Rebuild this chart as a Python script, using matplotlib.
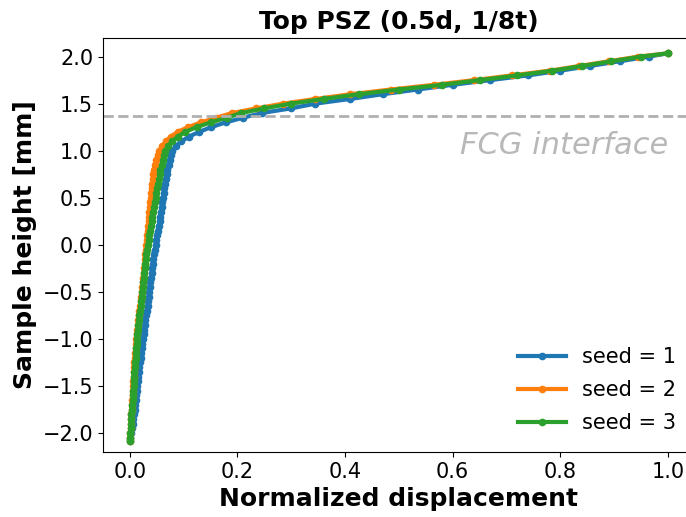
import numpy as np
import matplotlib
matplotlib.use("Agg")
import matplotlib.pyplot as plt

# sample heights (mm) along the specimen, shared by all seeds
height = [-2.08, -2.05, -2.0, -1.95, -1.9, -1.85, -1.8, -1.75, -1.7, -1.65,
          -1.6, -1.55, -1.5, -1.45, -1.4, -1.35, -1.3, -1.25, -1.2, -1.15,
          -1.1, -1.05, -1.0, -0.95, -0.9, -0.85, -0.8, -0.75, -0.7, -0.65,
          -0.6, -0.55, -0.5, -0.45, -0.4, -0.35, -0.3, -0.25, -0.2, -0.15,
          -0.1, -0.05, 0.0, 0.05, 0.1, 0.15, 0.2, 0.25, 0.3, 0.35,
          0.4, 0.45, 0.5, 0.55, 0.6, 0.65, 0.7, 0.75, 0.8, 0.85,
          0.9, 0.95, 1.0, 1.05, 1.1, 1.15, 1.2, 1.25, 1.3, 1.35,
          1.4, 1.45, 1.5, 1.55, 1.6, 1.65, 1.7, 1.75, 1.8, 1.85,
          1.9, 1.95, 2.0, 2.035]

# normalized displacement for each seed
disp_seed1 = [0.000, 0.001, 0.002, 0.0035, 0.005, 0.0065, 0.008, 0.009, 0.010, 0.011,
              0.012, 0.013, 0.014, 0.015, 0.016, 0.017, 0.018, 0.019, 0.020, 0.021,
              0.022, 0.023, 0.024, 0.0255, 0.027, 0.028, 0.029, 0.0305, 0.032, 0.033,
              0.034, 0.035, 0.036, 0.037, 0.038, 0.0395, 0.041, 0.042, 0.043, 0.044,
              0.045, 0.0465, 0.048, 0.0495, 0.051, 0.0525, 0.054, 0.0555, 0.057, 0.058,
              0.059, 0.0605, 0.062, 0.063, 0.064, 0.0655, 0.067, 0.0685, 0.070, 0.072,
              0.074, 0.076, 0.079, 0.086, 0.096, 0.110, 0.129, 0.151, 0.178, 0.210,
              0.245, 0.300, 0.345, 0.410, 0.470, 0.535, 0.600, 0.670, 0.740, 0.800,
              0.855, 0.910, 0.965, 1.0]
disp_seed2 = [0.000, 0.0005, 0.001, 0.0015, 0.002, 0.0025, 0.003, 0.0035, 0.004, 0.0045,
              0.005, 0.0055, 0.006, 0.0065, 0.007, 0.0075, 0.008, 0.0085, 0.009, 0.010,
              0.011, 0.0115, 0.012, 0.013, 0.014, 0.015, 0.016, 0.017, 0.018, 0.019,
              0.020, 0.021, 0.022, 0.023, 0.024, 0.025, 0.026, 0.027, 0.028, 0.0285,
              0.029, 0.030, 0.031, 0.0315, 0.032, 0.033, 0.034, 0.035, 0.036, 0.0365,
              0.037, 0.038, 0.039, 0.040, 0.041, 0.042, 0.043, 0.044, 0.045, 0.047,
              0.049, 0.052, 0.055, 0.060, 0.067, 0.076, 0.089, 0.108, 0.132, 0.160,
              0.190, 0.235, 0.285, 0.345, 0.410, 0.485, 0.565, 0.640, 0.710, 0.780,
              0.835, 0.890, 0.945, 1.0]
disp_seed3 = [0.000, 0.0005, 0.001, 0.0015, 0.002, 0.0025, 0.003, 0.0035, 0.004, 0.005,
              0.006, 0.0065, 0.007, 0.0075, 0.008, 0.0085, 0.009, 0.010, 0.011, 0.0115,
              0.012, 0.0125, 0.013, 0.014, 0.015, 0.016, 0.017, 0.018, 0.019, 0.020,
              0.021, 0.022, 0.023, 0.024, 0.025, 0.026, 0.027, 0.028, 0.029, 0.030,
              0.031, 0.0325, 0.034, 0.035, 0.036, 0.0375, 0.039, 0.0405, 0.042, 0.0435,
              0.045, 0.0465, 0.048, 0.0495, 0.051, 0.0525, 0.054, 0.0555, 0.057, 0.059,
              0.061, 0.0635, 0.066, 0.071, 0.079, 0.089, 0.103, 0.124, 0.150, 0.180,
              0.207, 0.250, 0.300, 0.360, 0.425, 0.500, 0.580, 0.650, 0.720, 0.785,
              0.840, 0.895, 0.950, 1.0]

seeds = [1, 2, 3]
fcg_height = 1.365

fig = plt.figure(figsize=(6.86, 5.17), dpi=100)
ax = fig.add_axes([0.150, 0.126, 0.863, 0.801])

for s, d in zip(seeds, [disp_seed1, disp_seed2, disp_seed3]):
    ax.plot(d, height, '-o', lw=3, ms=4.5, label='seed = %d' % s)

ax.axhline(fcg_height, color='#b0b0b0', ls='--', lw=2)
ax.text(1.0, 1.06, 'FCG interface', color='#b8b8b8', fontsize=22,
        style='italic', ha='right', va='center')

ax.set_xlim(-0.05, 1.05)
ax.set_ylim(-2.2, 2.2)
ax.set_xticks(np.arange(0, 1.01, 0.2))
ax.set_yticks(np.arange(-2.0, 2.01, 0.5))
ax.tick_params(labelsize=15)
ax.set_xlabel('Normalized displacement', fontsize=18, fontweight='bold')
ax.set_ylabel('Sample height [mm]', fontsize=18, fontweight='bold')
ax.set_title('Top PSZ (0.5d, 1/8t)', fontsize=18, fontweight='bold')
ax.legend(loc='lower right', frameon=False, fontsize=15,
          handlelength=2.3, labelspacing=0.62)

fig.savefig('out.png', dpi=100)
